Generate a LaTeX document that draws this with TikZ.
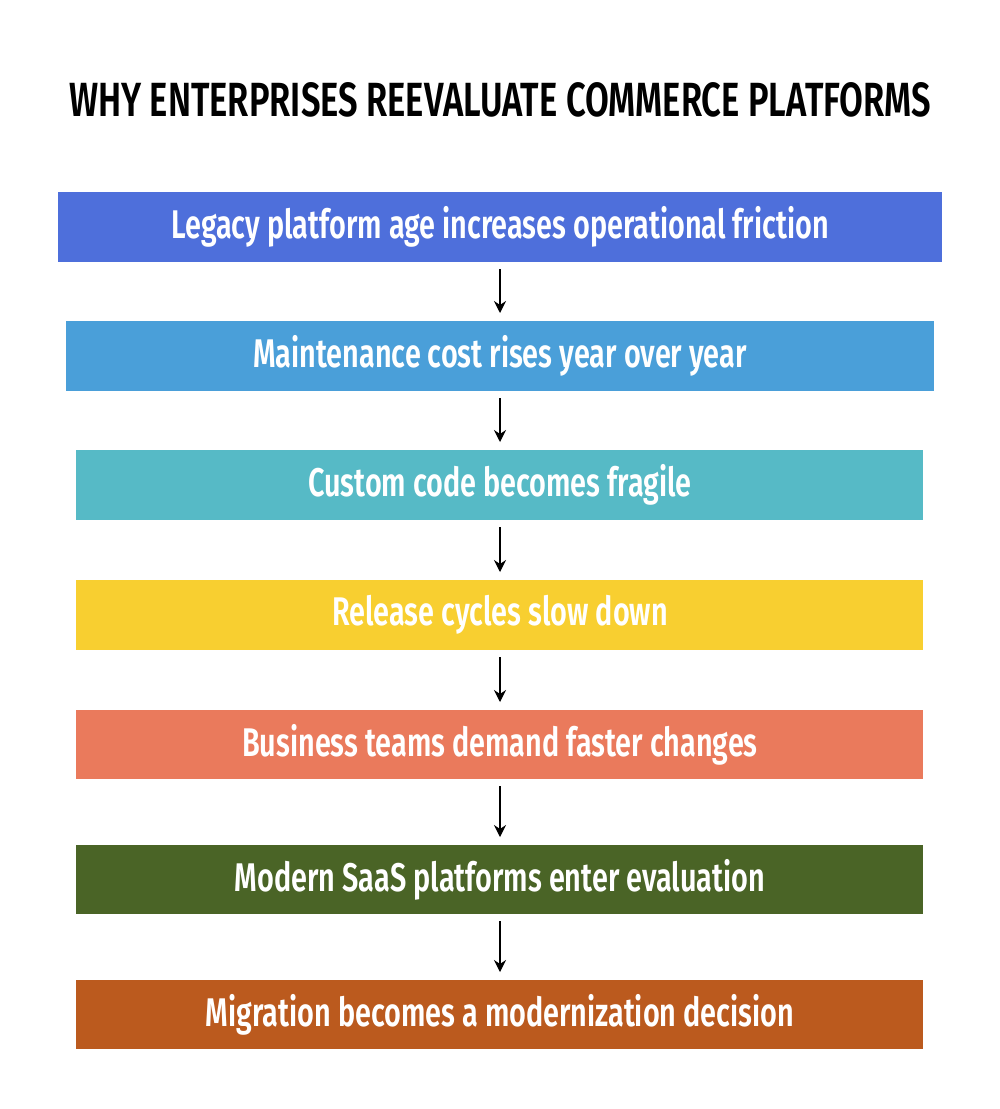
\documentclass[tikz,border=0pt]{standalone}
\usepackage{fontspec}
\setmainfont[FakeStretch=0.72,BoldFont={Fira Sans SemiBold}]{Fira Sans}
\usetikzlibrary{arrows.meta}
\definecolor{c1}{HTML}{4E6FDB}
\definecolor{c2}{HTML}{4A9FD9}
\definecolor{c3}{HTML}{56BAC6}
\definecolor{c4}{HTML}{F8CF30}
\definecolor{c5}{HTML}{EA7A5C}
\definecolor{c6}{HTML}{4A6426}
\definecolor{c7}{HTML}{BB5A1E}
\tikzset{
 box/.style={draw=none,text=white,font=\bfseries\fontsize{40}{42}\selectfont,inner sep=0pt},
 arr/.style={-{Stealth[length=12pt,width=12pt]},line width=1.3pt,shorten <=7pt,shorten >=8pt}
}
\begin{document}
\begin{tikzpicture}[x=1pt,y=-1pt]
\useasboundingbox (0,0) rectangle (1000,1109);
\fill[white] (0,0) rectangle (1000,1109);
\node[font=\bfseries\fontsize{48}{50}\selectfont] (t) at (500,100) {WHY ENTERPRISES REEVALUATE COMMERCE PLATFORMS};
\foreach \n/\xa/\xb/\ya/\yb/\c/\t in {
 1/58/942/192/262/c1/Legacy platform age increases operational friction,
 2/66/934/321/391/c2/Maintenance cost rises year over year,
 3/76/923/450/520/c3/Custom code becomes fragile,
 4/76/923/580/650/c4/Release cycles slow down,
 5/76/923/710/779/c5/Business teams demand faster changes,
 6/76/923/845/914/c6/Modern SaaS platforms enter evaluation,
 7/76/923/980/1049/c7/Migration becomes a modernization decision}{
 \fill[\c] (\xa,\ya) rectangle (\xb,\yb);
 \coordinate (top\n) at (500,\ya);
 \coordinate (bot\n) at (500,\yb);
 \node[box] (b\n) at (500,{(\ya+\yb)/2}) {\t};
}
\foreach \a/\b in {1/2,2/3,3/4,4/5,5/6,6/7}
 \draw[arr] (bot\a) -- (top\b);
\end{tikzpicture}
\end{document}
